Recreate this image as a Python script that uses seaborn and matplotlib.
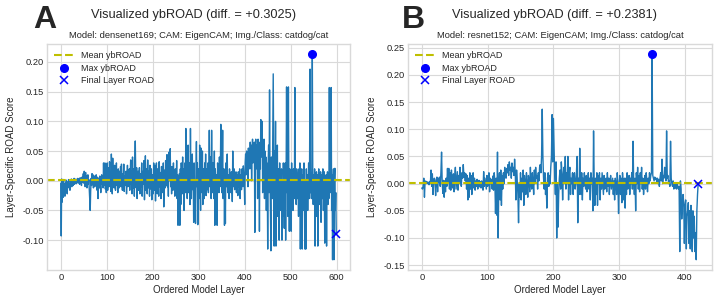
import numpy as np
import pandas as pd
import matplotlib
matplotlib.use("Agg")
import matplotlib.pyplot as plt
import seaborn as sns

# ---------------- data ----------------
road_a = [
    -0.004, -0.093, 0.003, -0.036, -0.012, -0.028, 0.002, -0.018, -0.006, -0.026,
    -0.004, -0.015, 0.001, -0.010, -0.022, -0.002, -0.008, 0.002, -0.012, -0.005,
    -0.016, 0.000, -0.007, 0.003, -0.010, -0.004, 0.002, -0.008, -0.001, 0.004,
    -0.006, 0.001, -0.003, 0.003, -0.005, 0.002, -0.002, 0.004, -0.004, 0.000,
    0.003, -0.006, 0.005, -0.002, 0.004, -0.008, 0.006, -0.003, 0.002, 0.012,
    -0.004, 0.016, 0.002, -0.010, 0.014, -0.002, 0.008, -0.012, 0.004, 0.010,
    -0.006, 0.002, -0.014, -0.032, -0.050, -0.018, 0.004, -0.008, 0.012, -0.004,
    0.010, -0.012, 0.002, 0.008, -0.010, 0.004, -0.006, 0.010, -0.002, -0.016,
    0.006, -0.030, -0.008, 0.004, -0.012, 0.008, -0.004, -0.020, 0.002, 0.010,
    -0.006, 0.004, -0.012, 0.030, -0.008, 0.002, 0.030, -0.014, 0.006, -0.020,
    0.012, 0.030, -0.016, 0.004, 0.022, -0.010, 0.032, -0.004, 0.010, -0.018,
    0.045, 0.008, -0.022, 0.038, -0.006, 0.014, -0.012, 0.026, -0.002, -0.016,
    0.012, 0.030, -0.008, 0.004, -0.020, 0.020, 0.002, -0.012, 0.016, -0.006,
    0.024, -0.010, 0.028, 0.000, -0.016, 0.012, -0.004, 0.028, -0.018, 0.008,
    0.002, -0.008, 0.016, -0.022, 0.006, 0.026, -0.010, 0.010, -0.004, 0.020,
    -0.016, 0.010, 0.035, -0.006, 0.016, -0.022, 0.040, 0.004, -0.012, 0.020,
    -0.026, 0.030, 0.067, 0.010, -0.012, 0.022, -0.030, 0.004, 0.016, -0.016,
    0.010, 0.022, -0.022, 0.004, 0.012, -0.010, 0.030, -0.026, 0.000, 0.016,
    -0.006, 0.034, -0.032, 0.010, 0.042, -0.016, 0.020, 0.004, -0.022, 0.035,
    0.000, -0.012, 0.016, -0.026, 0.026, 0.002, -0.014, 0.020, -0.032, 0.008,
    0.010, -0.022, 0.030, 0.000, -0.016, 0.026, -0.034, 0.010, 0.030, -0.006,
    -0.022, 0.020, 0.006, -0.026, 0.032, -0.010, 0.014, 0.000, -0.030, 0.024,
    -0.006, 0.012, -0.020, 0.030, -0.044, 0.004, 0.018, -0.012, 0.034, -0.008,
    0.010, 0.044, -0.010, 0.020, -0.026, 0.048, 0.000, 0.014, 0.054, -0.010,
    0.010, -0.022, 0.024, 0.004, -0.016, 0.030, -0.006, 0.010, -0.026, 0.020,
    0.000, -0.012, 0.034, -0.030, 0.010, -0.075, 0.004, -0.020, 0.012, -0.075,
    0.020, -0.040, 0.030, 0.000, -0.022, 0.040, -0.010, 0.020, -0.050, 0.010,
    0.030, -0.020, 0.088, -0.010, 0.020, -0.030, 0.005, 0.060, -0.020, 0.010,
    0.030, -0.040, 0.088, 0.000, -0.030, 0.020, 0.045, -0.015, 0.010, -0.070,
    0.030, -0.020, 0.000, -0.072, 0.020, 0.066, -0.010, 0.030, -0.074, 0.000,
    0.020, -0.030, 0.060, 0.010, -0.050, 0.055, 0.000, -0.020, 0.050, -0.040,
    0.020, 0.010, -0.030, 0.030, -0.010, 0.045, -0.025, 0.010, 0.020, -0.015,
    0.030, -0.020, 0.005, 0.085, -0.010, 0.020, 0.040, -0.030, 0.085, 0.000,
    -0.020, 0.030, 0.010, -0.030, 0.050, -0.075, 0.020, 0.000, -0.040, 0.010,
    -0.075, 0.030, -0.010, 0.020, -0.020, 0.040, -0.010, 0.010, 0.095, 0.020,
    -0.020, 0.010, 0.085, -0.030, 0.000, 0.020, -0.075, 0.010, -0.072, 0.030,
    -0.010, 0.020, 0.045, -0.020, 0.010, 0.000, -0.030, 0.020, -0.010, 0.010,
    -0.020, 0.015, 0.000, -0.035, 0.050, -0.010, 0.005, 0.020, -0.015, 0.010,
    -0.005, 0.015, -0.020, 0.010, 0.000, -0.025, 0.015, 0.005, -0.010, 0.020,
    -0.030, 0.010, 0.000, -0.015, 0.020, 0.005, -0.010, 0.025, 0.010, -0.005,
    -0.040, 0.030, 0.045, 0.010, 0.050, 0.020, 0.040, -0.010, 0.055, 0.030,
    0.050, 0.020, 0.065, 0.035, 0.060, 0.000, 0.050, 0.070, 0.030, 0.060,
    0.040, 0.065, -0.087, 0.050, 0.070, 0.020, 0.060, 0.040, -0.030, 0.070,
    0.030, 0.065, -0.085, 0.050, 0.020, 0.103, 0.040, 0.070, 0.100, -0.020,
    0.060, 0.020, 0.070, -0.030, 0.050, 0.000, 0.040, -0.050, 0.030, 0.010,
    -0.115, 0.030, 0.060, -0.020, 0.153, 0.010, -0.060, -0.118, 0.040, 0.020,
    -0.030, 0.070, 0.180, 0.020, -0.110, 0.050, -0.040, 0.100, -0.110, 0.030,
    -0.020, 0.060, -0.060, 0.020, 0.000, -0.100, 0.030, -0.050, 0.010, -0.030,
    0.020, -0.100, 0.000, -0.060, 0.030, -0.020, -0.080, 0.010, 0.030, -0.100,
    0.000, 0.158, -0.020, 0.040, -0.060, 0.158, 0.000, -0.085, 0.020, -0.040,
    0.010, -0.085, 0.030, -0.020, 0.000, -0.050, 0.020, 0.010, -0.030, 0.157,
    -0.020, 0.000, -0.040, 0.020, 0.010, -0.030, 0.000, -0.060, 0.020, -0.020,
    0.030, -0.115, 0.000, -0.050, 0.020, -0.115, -0.020, 0.010, -0.050, 0.030,
    -0.020, -0.115, 0.000, -0.115, 0.020, -0.040, 0.010, -0.050, 0.000, 0.030,
    -0.030, 0.020, 0.188, -0.020, 0.010, -0.030, 0.020, 0.213, 0.000, -0.040,
    0.010, -0.020, 0.020, -0.110, 0.000, -0.030, 0.015, -0.060, 0.010, -0.110,
    0.000, 0.020, -0.040, 0.010, -0.020, 0.015, -0.070, 0.000, 0.010, -0.030,
    0.020, -0.050, -0.010, 0.015, -0.105, 0.000, -0.020, 0.010, -0.110, 0.000,
    0.015, -0.040, 0.010, -0.030, 0.157, 0.000, -0.020, 0.020, 0.157, -0.050,
    0.010, -0.133, 0.000, 0.020, -0.133, 0.000, 0.021, -0.050, -0.020, -0.090,
]

road_b = [
    -0.008, -0.010, -0.005, 0.010, -0.025, 0.005, 0.002, 0.004, 0.000, 0.003,
    0.002, -0.002, 0.004, 0.000, 0.025, -0.005, 0.018, -0.020, 0.005, 0.010,
    0.003, -0.022, 0.008, 0.012, -0.015, 0.010, 0.002, 0.012, -0.005, 0.020,
    0.058, 0.000, -0.018, 0.006, -0.025, 0.005, -0.015, 0.010, -0.005, 0.028,
    0.002, 0.028, -0.010, 0.020, -0.012, 0.025, 0.000, -0.008, 0.018, -0.015,
    0.012, 0.030, -0.010, 0.005, 0.022, -0.012, 0.015, 0.000, 0.030, 0.008,
    -0.005, 0.020, 0.010, 0.035, 0.012, 0.020, 0.005, 0.018, -0.010, 0.015,
    -0.030, 0.010, -0.025, 0.020, -0.010, 0.015, -0.020, 0.005, 0.020, -0.008,
    0.010, -0.012, 0.005, -0.005, 0.008, -0.010, 0.002, 0.006, -0.006, 0.004,
    -0.008, 0.005, 0.000, -0.012, 0.022, -0.005, 0.010, 0.000, -0.010, 0.015,
    -0.005, 0.005, 0.020, -0.015, 0.010, 0.000, 0.008, -0.010, 0.014, -0.012,
    0.020, 0.005, -0.055, 0.010, -0.058, 0.058, -0.100, 0.000, 0.020, -0.030,
    0.025, -0.040, 0.015, -0.010, 0.020, 0.000, 0.030, 0.015, 0.010, 0.028,
    0.020, 0.035, 0.015, 0.040, 0.025, 0.030, 0.010, 0.038, 0.022, 0.030,
    0.015, 0.045, 0.020, -0.030, 0.025, 0.005, -0.020, -0.072, 0.000, -0.025,
    0.020, -0.030, 0.010, -0.015, 0.025, -0.040, 0.015, 0.000, -0.020, 0.020,
    0.000, -0.025, 0.015, 0.005, -0.015, 0.030, 0.000, -0.010, 0.020, 0.005,
    -0.020, 0.025, 0.000, 0.030, 0.010, 0.015, -0.010, 0.020, 0.005, 0.030,
    0.035, 0.020, 0.050, 0.137, 0.050, 0.010, -0.010, 0.020, -0.020, 0.000,
    -0.045, 0.010, 0.020, -0.005, 0.015, 0.000, 0.030, 0.050, 0.127, 0.040,
    0.120, 0.060, 0.010, -0.020, 0.040, -0.100, 0.000, -0.080, -0.020, 0.010,
    0.025, -0.010, 0.040, 0.020, -0.030, 0.015, 0.030, 0.000, 0.050, -0.010,
    0.020, 0.000, 0.050, -0.030, 0.020, 0.030, -0.020, 0.010, 0.000, 0.020,
    -0.020, 0.015, 0.020, -0.010, 0.000, 0.020, 0.050, -0.072, 0.010, -0.020,
    0.065, 0.000, -0.020, 0.020, -0.030, 0.010, -0.005, 0.020, 0.000, -0.010,
    0.015, -0.015, 0.000, 0.020, -0.010, 0.010, -0.030, 0.020, 0.000, 0.010,
    -0.050, 0.097, 0.000, -0.040, 0.010, -0.020, 0.020, -0.040, 0.015, 0.000,
    0.020, -0.030, 0.010, -0.010, 0.020, 0.000, -0.020, 0.015, -0.010, 0.005,
    0.010, -0.015, 0.020, -0.005, 0.010, -0.020, 0.005, 0.015, -0.010, 0.000,
    0.010, -0.020, 0.005, -0.030, 0.010, 0.000, -0.020, 0.020, 0.000, -0.055,
    0.000, 0.015, -0.020, 0.010, -0.035, 0.020, 0.000, -0.030, 0.010, -0.045,
    0.010, -0.020, 0.020, -0.010, 0.000, 0.015, -0.020, 0.010, 0.000, 0.020,
    -0.010, 0.078, 0.000, -0.020, 0.010, -0.050, 0.020, 0.000, 0.030, -0.010,
    0.015, -0.015, 0.020, 0.000, 0.030, -0.010, 0.010, -0.020, 0.000, 0.015,
    -0.010, 0.020, 0.005, -0.015, 0.010, 0.000, 0.020, 0.005, 0.015, 0.020,
    0.238, 0.015, 0.010, 0.005, 0.012, 0.008, 0.010, 0.003, 0.010, 0.000,
    0.008, -0.005, 0.010, 0.020, 0.005, 0.045, 0.000, 0.015, 0.010, 0.030,
    0.020, 0.005, 0.097, 0.010, 0.015, 0.000, 0.005, -0.005, 0.078, 0.010,
    0.000, -0.005, 0.005, -0.010, 0.000, -0.008, 0.002, -0.010, 0.000, -0.005,
    -0.010, -0.005, -0.125, 0.005, -0.010, -0.065, -0.040, -0.020, -0.035, -0.110,
    -0.040, -0.030, -0.120, -0.060, -0.050, -0.035, -0.110, -0.050, -0.120, -0.040,
    -0.090, -0.125, -0.050, -0.100, -0.060, -0.125, -0.090, -0.140, -0.050, -0.020,
    0.000,
]

panel_letters = ["A", "B"]
main_titles = ["Visualized ybROAD (diff. = +0.3025)", "Visualized ybROAD (diff. = +0.2381)"]
sub_titles = ["Model: densenet169; CAM: EigenCAM; Img./Class: catdog/cat",
              "Model: resnet152; CAM: EigenCAM; Img./Class: catdog/cat"]
x_ticks = [[0, 100, 200, 300, 400, 500, 600], [0, 100, 200, 300, 400]]
y_ticks = [[-0.10, -0.05, 0.00, 0.05, 0.10, 0.15, 0.20],
           [-0.15, -0.10, -0.05, 0.00, 0.05, 0.10, 0.15, 0.20, 0.25]]

# ---------------- style ----------------
sns.set_style("whitegrid", {"grid.color": ".85", "axes.edgecolor": ".85"})
FONT = ["Liberation Sans", "DejaVu Sans"]
plt.rcParams["font.family"] = FONT

fig = plt.figure(figsize=(7.27, 2.98), dpi=100)
W, H = 727, 298
boxes = [(47, 44, 350, 270), (408, 44, 712, 270)]
title_cx = [193.5, 555]
letter_x = [33, 402]

for i, (vals, box) in enumerate(zip([road_a, road_b], boxes)):
    l, t, r, b = box
    ax = fig.add_axes([l / W, 1 - b / H, (r - l) / W, (b - t) / H])
    df = pd.DataFrame({"layer": np.arange(len(vals)), "road": vals})
    sns.lineplot(data=df, x="layer", y="road", ax=ax, color="#1f77b4",
                 linewidth=1.0, legend=False)
    mean_v = float(np.mean(vals))
    imax = int(np.argmax(vals))
    ax.axhline(mean_v, color=(0.75, 0.75, 0.0), linestyle="--", linewidth=1.5,
               label="Mean ybROAD")
    ax.plot([df.layer[imax]], [df.road[imax]], "o", color="blue", markersize=5.5,
            label="Max ybROAD")
    ax.plot([df.layer.iloc[-1]], [df.road.iloc[-1]], "x", color="blue",
            markersize=5.5, markeredgewidth=1.1, label="Final Layer ROAD")
    ax.set_xticks(x_ticks[i])
    ax.set_yticks(y_ticks[i])
    ax.set_yticklabels([f"{v:.2f}" for v in y_ticks[i]])
    ax.tick_params(labelsize=6.7, pad=2, length=0)
    ax.set_xlabel("Ordered Model Layer", fontsize=7, labelpad=2)
    ax.set_ylabel("Layer-Specific ROAD Score", fontsize=7, labelpad=5)
    ax.set_title(sub_titles[i], fontsize=6.75, pad=4)
    ax.legend(loc="upper left", fontsize=6.5, frameon=False, handlelength=2.2,
              borderaxespad=0.4, labelspacing=0.4)
    for sp in ax.spines.values():
        sp.set_linewidth(1.0)
    fig.text(title_cx[i] / W, 1 - 15 / H, main_titles[i], fontsize=9.2,
             ha="center", va="center")
    fig.text(letter_x[i] / W, 1 - 20 / H, panel_letters[i], fontsize=23,
             fontweight="bold", ha="left", va="center")

fig.savefig("out.png", dpi=100)
